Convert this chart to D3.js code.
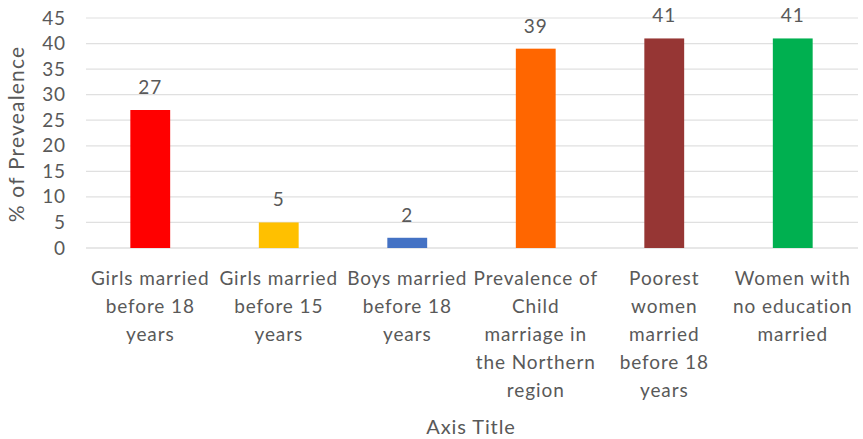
<!DOCTYPE html>
<html>
<head>
<meta charset="utf-8">
<script src="https://cdn.jsdelivr.net/npm/d3@7"></script>
<style>
  body { margin: 0; background: #fff; }
  text { font-family: Lato, "Open Sans", sans-serif; fill: #595959; letter-spacing: 0.9px; }
</style>
</head>
<body>
<div id="container"></div>
<script>
let w = 863;
let h = 439;

// data
let categories = [
  "Girls married before 18 years",
  "Girls married before 15 years",
  "Boys married before 18 years",
  "Prevalence of Child marriage in the Northern region",
  "Poorest women married before 18 years",
  "Women with no education married"
];
let values = [27, 5, 2, 39, 41, 41];
let colors = ["#ff0000", "#ffc000", "#4472c4", "#ff6600", "#963634", "#00b050"];
let yTicks = [0, 5, 10, 15, 20, 25, 30, 35, 40, 45];

let data = categories.map(function (c, i) {
  return { cat: c, value: values[i], color: colors[i] };
});

let viz = d3.select("#container").append("svg")
  .attr("width", w)
  .attr("height", h);

let x = d3.scaleBand().domain(categories).range([86, 857]).paddingInner(0.69).paddingOuter(0.345);
let y = d3.scaleLinear().domain([0, 45]).range([248, 18]);

// gridlines
viz.append("g").selectAll("line").data(yTicks).enter()
  .append("line")
  .attr("x1", 86).attr("x2", 858)
  .attr("y1", d => y(d)).attr("y2", d => y(d))
  .attr("stroke", d => d == 0 ? "#d0d0d0" : "#e0e0e0")
  .attr("stroke-width", 1.2);

// y axis (labels only)
let yAxis = d3.axisLeft(y).tickValues(yTicks).tickSize(0).tickPadding(0);
let yg = viz.append("g").attr("transform", "translate(66,0)").call(yAxis);
yg.select(".domain").remove();
yg.selectAll("text").style("font-size", "19px").style("font-family", "Lato, sans-serif").attr("fill", "#595959");

// bars
viz.append("g").selectAll("rect").data(data).enter()
  .append("rect")
  .attr("x", d => x(d.cat))
  .attr("width", x.bandwidth())
  .attr("y", d => y(d.value))
  .attr("height", d => y(0) - y(d.value))
  .attr("fill", d => d.color);

// value labels
viz.append("g").selectAll("text").data(data).enter()
  .append("text")
  .attr("x", d => x(d.cat) + x.bandwidth() / 2)
  .attr("y", d => y(d.value) - 16)
  .attr("text-anchor", "middle")
  .style("font-size", "19px")
  .text(d => d.value);

// category labels, wrapped
let xAxis = d3.axisBottom(x).tickSize(0).tickPadding(0);
let xg = viz.append("g").attr("transform", "translate(0,248)").call(xAxis);
xg.select(".domain").remove();
xg.selectAll("text")
  .style("font-size", "19px")
  .style("font-family", "Lato, sans-serif")
  .attr("fill", "#595959")
  .attr("dy", null)
  .call(wrap, 128);

function wrap(texts, width) {
  texts.each(function () {
    let text = d3.select(this);
    let words = text.text().split(/\s+/);
    let line = [];
    let lineNo = 0;
    text.text(null).attr("y", 0);
    let tspan = text.append("tspan").attr("x", 0).attr("y", 37);
    words.forEach(function (word) {
      line.push(word);
      tspan.text(line.join(" "));
      if (tspan.node().getComputedTextLength() > width && line.length > 1) {
        line.pop();
        tspan.text(line.join(" "));
        line = [word];
        lineNo++;
        tspan = text.append("tspan").attr("x", 0).attr("y", 37 + lineNo * 28).text(word);
      }
    });
  });
}

// axis titles
viz.append("text")
  .attr("x", 471).attr("y", 434)
  .attr("text-anchor", "middle")
  .style("font-size", "20px")
  .text("Axis Title");

viz.append("text")
  .attr("transform", "translate(24,134) rotate(-90)")
  .attr("text-anchor", "middle")
  .style("font-size", "21px")
  .style("letter-spacing", "1.2px")
  .text("% of Prevealence");
</script>
</body>
</html>
